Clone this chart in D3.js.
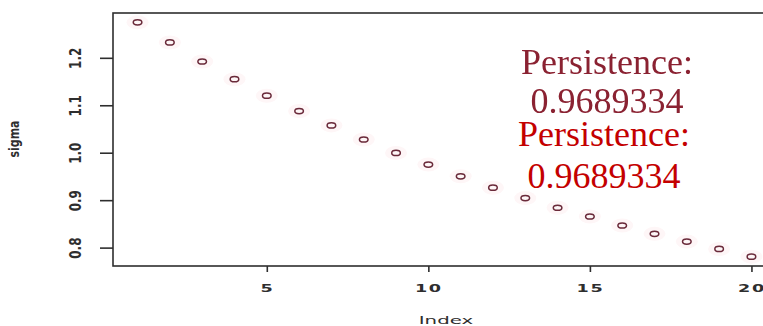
<!DOCTYPE html>
<html>
<head>
<meta charset="utf-8">
<script src="https://cdn.jsdelivr.net/npm/d3@7"></script>
<style>
  html, body { margin: 0; padding: 0; background: #fff; overflow: hidden; }
  svg { display: block; }
</style>
</head>
<body>
<div id="chart"></div>
<script>
// Data
var index = [1, 2, 3, 4, 5, 6, 7, 8, 9, 10, 11, 12, 13, 14, 15, 16, 17, 18, 19, 20];
var sigma = [1.2747, 1.2324, 1.1922, 1.1549, 1.1202, 1.0878, 1.0576, 1.0279, 0.9996, 0.9750,
             0.9503, 0.9263, 0.9043, 0.8840, 0.8656, 0.8466, 0.8290, 0.8127, 0.7972, 0.7810];
var xTicks = [5, 10, 15, 20];
var yTicks = [0.8, 0.9, 1.0, 1.1, 1.2];
var noteLines = ['Persistence:', '0.9689334'];

(function() {
  var w = 763, h = 326;
  var box = {left: 113, top: 13, right: 776, bottom: 266};

  var svg = d3.select('#chart').append('svg')
    .attr('width', w).attr('height', h);

  // R style 4% padding on both axes
  function pad(ext) {
    var r = ext[1] - ext[0];
    return [ext[0] - r * 0.04, ext[1] + r * 0.04];
  }

  var x = d3.scaleLinear().domain(pad(d3.extent(index))).range([box.left, box.right]);
  var y = d3.scaleLinear().domain(pad(d3.extent(sigma))).range([box.bottom, box.top]);

  var ink = '#2e2e2e';

  // Plot box
  svg.append('rect')
    .attr('x', box.left).attr('y', box.top)
    .attr('width', box.right - box.left).attr('height', box.bottom - box.top)
    .attr('fill', 'none').attr('stroke', ink).attr('stroke-width', 1.6);

  // Points (faint halo then the circle itself)
  var pts = svg.append('g');
  pts.selectAll('ellipse.halo').data(index).enter().append('ellipse')
    .attr('class', 'halo')
    .attr('cx', function(d) { return x(d); })
    .attr('cy', function(d, i) { return y(sigma[i]); })
    .attr('rx', 11).attr('ry', 7)
    .attr('fill', '#fef6f7');
  pts.selectAll('ellipse.pt').data(index).enter().append('ellipse')
    .attr('class', 'pt')
    .attr('cx', function(d) { return x(d); })
    .attr('cy', function(d, i) { return y(sigma[i]); })
    .attr('rx', 4.3).attr('ry', 2.6)
    .attr('fill', 'none')
    .attr('stroke', '#6a2a3a').attr('stroke-width', 1.5);

  // X axis
  var xAxis = svg.append('g')
    .attr('transform', 'translate(0,' + box.bottom + ')')
    .call(d3.axisBottom(x).tickValues(xTicks).tickSize(6).tickPadding(0).tickFormat(d3.format('d')));
  xAxis.select('.domain').remove();
  xAxis.selectAll('line').attr('stroke', ink).attr('stroke-width', 1.6);
  xAxis.selectAll('text')
    .attr('y', 0).attr('dy', null)
    .attr('fill', ink)
    .style('font-family', 'DejaVu Sans')
    .style('font-size', '11px')
    .style('font-weight', 'bold')
    .style('letter-spacing', '1px')
    .attr('transform', 'translate(0,26) scale(1.6,1)');

  // Y axis
  var yAxis = svg.append('g')
    .attr('transform', 'translate(' + box.left + ',0)')
    .call(d3.axisLeft(y).tickValues(yTicks).tickSize(13).tickFormat(d3.format('.1f')));
  yAxis.select('.domain').remove();
  yAxis.selectAll('line').attr('stroke', ink).attr('stroke-width', 1.6);
  yAxis.selectAll('text')
    .attr('x', null).attr('dy', null)
    .attr('text-anchor', 'middle')
    .attr('fill', ink)
    .style('font-family', 'DejaVu Sans')
    .style('font-size', '12px')
    .style('font-weight', 'bold')
    .attr('transform', 'translate(-37,0) rotate(-90) scale(1,1.3) translate(0,4)');

  // Axis titles
  svg.append('text')
    .attr('transform', 'translate(446,324) scale(1.8,1)')
    .attr('text-anchor', 'middle')
    .attr('fill', ink)
    .style('font-family', 'DejaVu Sans')
    .style('font-size', '11px')
    .text('Index');

  svg.append('text')
    .attr('transform', 'translate(19,139) rotate(-90) scale(1,1.3)')
    .attr('text-anchor', 'middle')
    .attr('fill', ink)
    .style('font-family', 'DejaVu Sans')
    .style('font-size', '11px')
    .style('font-weight', 'bold')
    .text('sigma');

  // Persistence note, drawn twice as in the picture
  var notes = [
    {cx: 607, base: [74, 113], fill: '#8a2030', blur: true},
    {cx: 604, base: [146, 188], fill: '#c40000', blur: false}
  ];
  var defs = svg.append('defs');
  defs.append('filter').attr('id', 'soft')
    .append('feGaussianBlur').attr('stdDeviation', 0.5);

  notes.forEach(function(n) {
    noteLines.forEach(function(t, i) {
      svg.append('text')
        .attr('x', n.cx).attr('y', n.base[i])
        .attr('text-anchor', 'middle')
        .attr('fill', n.fill)
        .attr('filter', n.blur ? 'url(#soft)' : null)
        .style('font-family', 'Liberation Serif')
        .style('font-size', '36px')
        .text(t);
    });
  });
})();
</script>
</body>
</html>
